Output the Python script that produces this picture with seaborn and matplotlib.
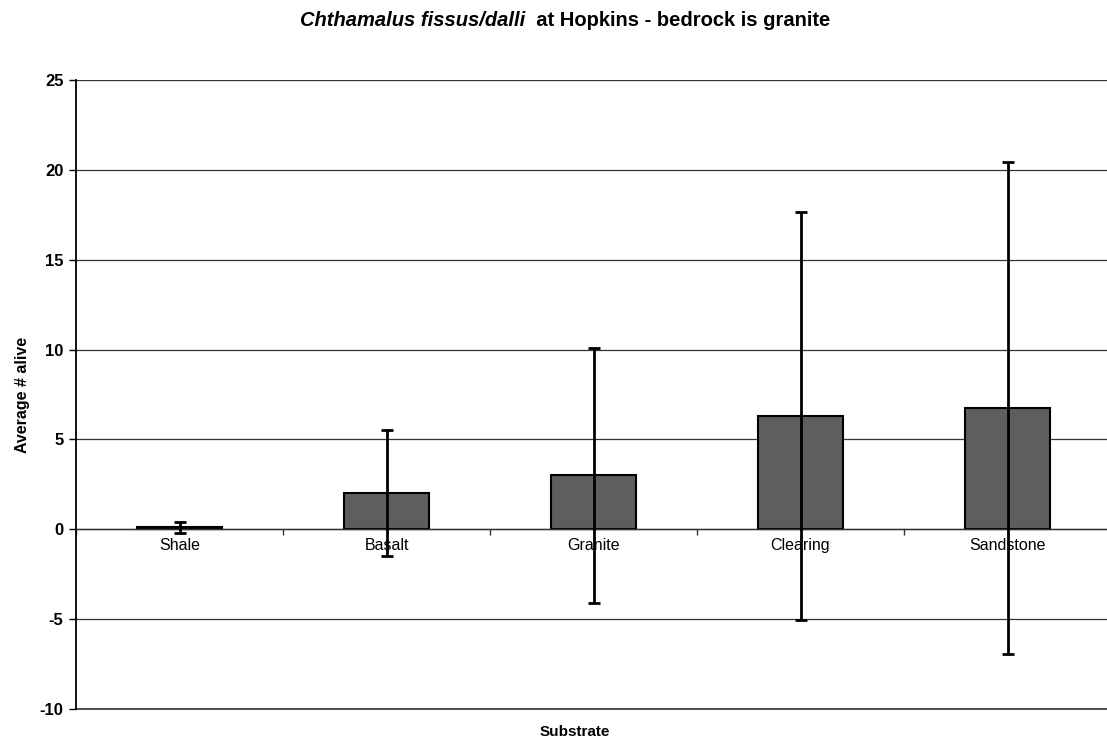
import numpy as np
import matplotlib
matplotlib.use("Agg")
import matplotlib.pyplot as plt
import seaborn as sns
from matplotlib.ticker import FixedLocator, NullFormatter

# Data
substrates = ["Shale", "Basalt", "Granite", "Clearing", "Sandstone"]
mean_alive = [0.1, 2.0, 3.0, 6.3, 6.75]
err_alive = [0.3, 3.5, 7.1, 11.35, 13.7]
y_ticks = [-10, -5, 0, 5, 10, 15, 20, 25]

sns.set_theme(style="white", rc={"text.color": "black", "axes.labelcolor": "black",
                                 "xtick.color": "black", "ytick.color": "black"})
plt.rcParams['font.family'] = ['Liberation Sans', 'DejaVu Sans']

fig = plt.figure(figsize=(11.07, 7.43), dpi=100)
ax = fig.add_axes([76 / 1107, 34 / 743, 1035 / 1107, 629 / 743])

sns.barplot(x=substrates, y=mean_alive, color="#5e5e5e", width=0.41,
            edgecolor="black", linewidth=1.5, saturation=1, ax=ax)
ax.errorbar(x=np.arange(len(substrates)), y=mean_alive, yerr=err_alive,
            fmt="none", ecolor="black", elinewidth=2, capsize=4, capthick=2,
            zorder=5)

ax.set_ylim(-10, 25)
ax.set_xlim(-0.5, len(substrates) - 0.5)
ax.set_yticks(y_ticks)
ax.set_yticklabels([str(v) for v in y_ticks], fontweight="bold", fontsize=12)
ax.yaxis.grid(True, color="#333333", linewidth=0.9)
ax.set_axisbelow(True)
# plot-area border at the bottom
ax.axhline(-10, color="#333333", linewidth=1.2, clip_on=False)

# x axis crosses at 0, ticks between categories
ax.spines['bottom'].set_position(('data', 0))
ax.spines['bottom'].set_linewidth(1.0)
ax.spines['bottom'].set_color("#333333")
ax.spines['right'].set_visible(False)
ax.spines['top'].set_visible(False)
ax.spines['left'].set_color("black")
ax.spines['left'].set_linewidth(1.3)
ax.xaxis.set_minor_locator(FixedLocator(np.arange(len(substrates) + 1) - 0.5))
ax.xaxis.set_minor_formatter(NullFormatter())
ax.tick_params(axis="x", which="major", length=0, pad=6, labelsize=11.5)
ax.tick_params(axis="x", which="minor", length=4, width=1, color="#333333",
               direction="out", bottom=True)
ax.tick_params(axis="y", length=5, width=1, color="black", left=True, pad=4)

ax.set_xlabel("Substrate", fontweight="bold", fontsize=11)
ax.xaxis.label.set_va("center")
ax.xaxis.set_label_coords(0.482, -0.036)
ax.set_ylabel("Average # alive", fontweight="bold", fontsize=11.5, labelpad=7)

# title with italic species name
t1 = fig.text(300 / 1107, 1 - 21 / 743, "Chthamalus fissus/dalli",
              fontsize=14.5, fontweight="bold", fontstyle="italic",
              ha="left", va="center")
fig.canvas.draw()
ax.annotate("  at Hopkins - bedrock is granite", xy=(1, 0.5), xycoords=t1,
            fontsize=14.5, fontweight="bold", ha="left", va="center",
            annotation_clip=False)

fig.savefig("out.png", dpi=100)
